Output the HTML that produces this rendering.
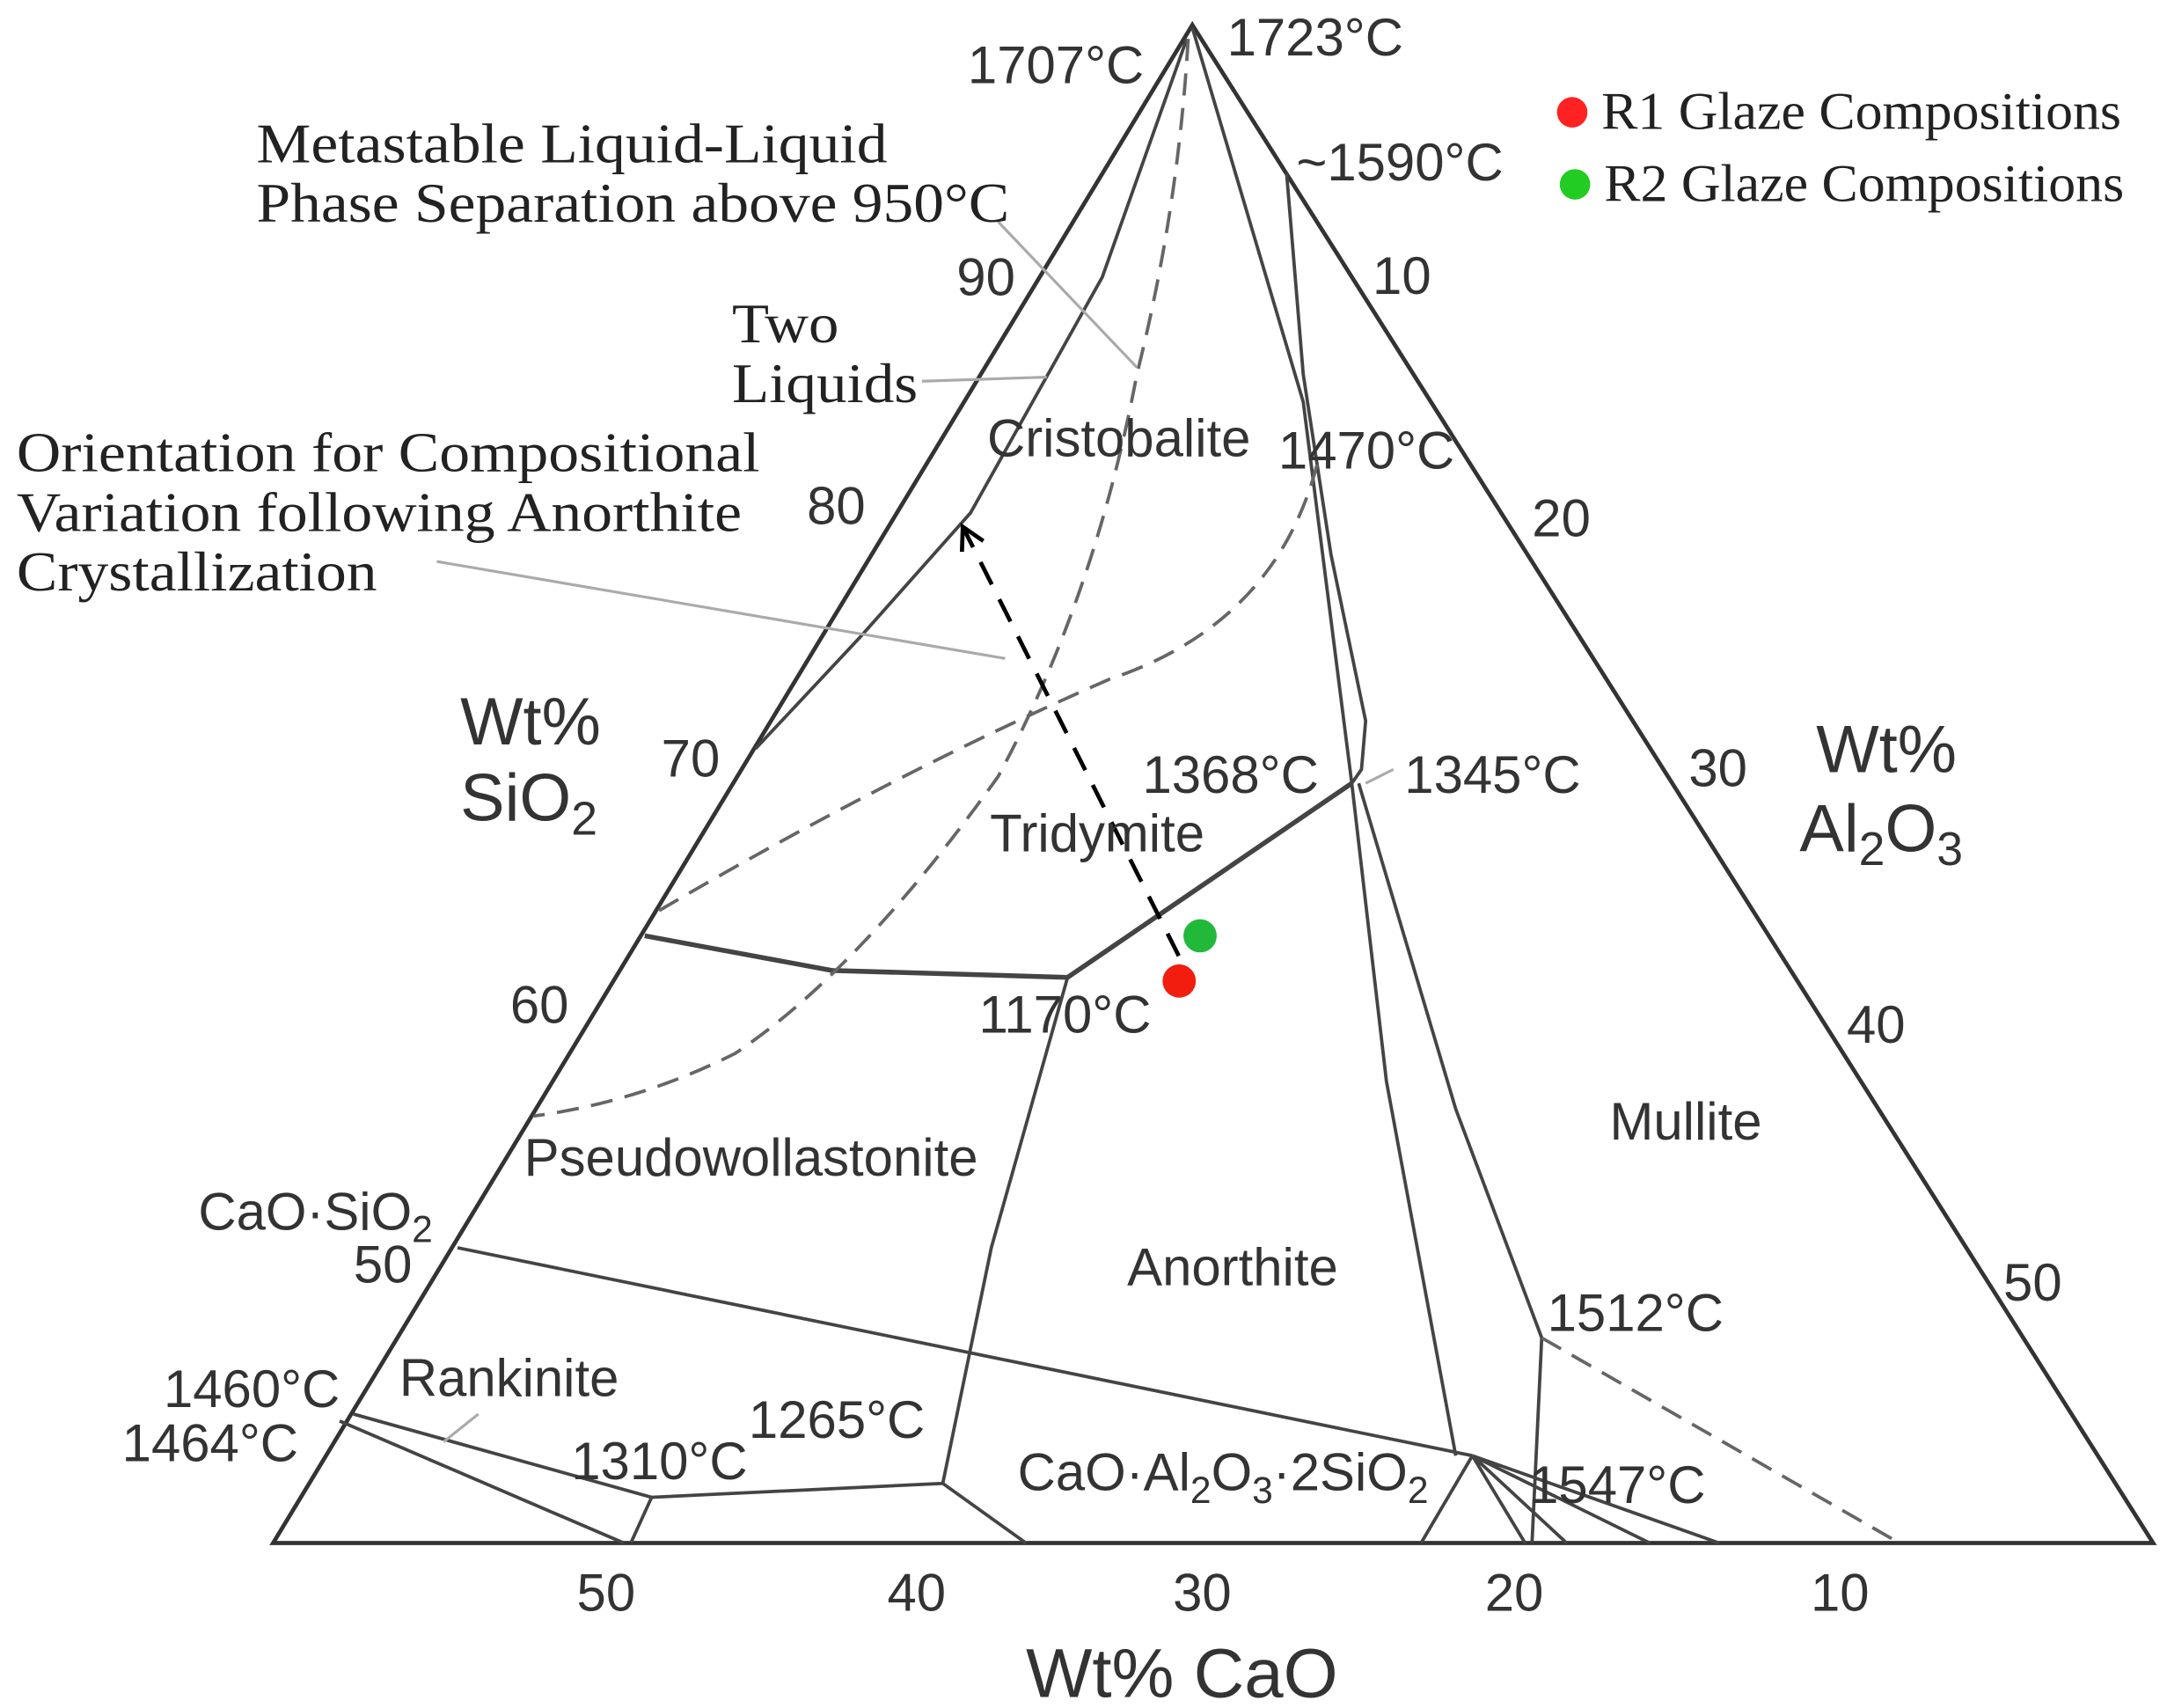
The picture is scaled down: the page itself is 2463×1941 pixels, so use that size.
<!DOCTYPE html>
<html><head><meta charset="utf-8"><style>
html,body{margin:0;padding:0;background:#fff;}
svg{display:block;}
.s{font-family:"Liberation Sans",sans-serif;fill:#333;}
.r{font-family:"Liberation Serif",serif;fill:#222;}
</style></head><body>
<svg id="chart" width="2463" height="1941" viewBox="0 0 1563 1232" preserveAspectRatio="none" xmlns="http://www.w3.org/2000/svg">
<g fill="none" stroke="#444" stroke-width="2.4">
  <path d="M860,18 L197,1113 L1553,1113 Z" stroke="#333" stroke-width="3"/>
  <path d="M856,28 L795,200 L700,370 L620,460 L545,540"/>
  <path d="M860,20 L940,290 L975,565 L1000,780 L1050,1050"/>
  <path d="M928,125 L940,270 L960,400 L985,520 L982,555 L975,565"/>
  <path d="M980,565 L1050,800 L1112,965 L1105,1113"/>
  <path stroke-width="3.5" d="M465,675 L600,700 L770,705 L975,565"/>
  <path d="M770,705 L715,900 L680,1070 L470,1080 L455,1113 M680,1070 L740,1113"/>
  <path d="M1062,1050 L1025,1113 M1062,1050 L1130,1113 M1062,1050 L1190,1113 M1062,1050 L1240,1113 M1062,1050 L1100,1113"/>
  <path d="M330,900 L1062,1050"/>
  <path d="M255,1020 L470,1080 M245,1025 L450,1113"/>
  <path stroke-dasharray="16,9" stroke="#666" d="M857,28 Q850,150 820,270 Q790,430 720,560 Q620,700 530,760 Q460,795 385,805"/>
  <path stroke-dasharray="16,9" stroke="#666" d="M950,335 Q920,450 800,490 Q640,560 470,660"/>
  <path stroke-dasharray="16,9" stroke="#666" d="M1112,965 L1370,1113"/>
  <path stroke="#aaa" stroke-width="2" d="M720,160 L820,265 M665,275 L755,272 M315,405 L725,475 M320,1040 L345,1020 M985,565 L1005,555"/>
</g>
<line id="trend-arrow" stroke="#000" stroke-width="3" stroke-dasharray="18,12"/>
<path id="trend-head" fill="none" stroke="#000" stroke-width="3"/>
<g id="points"></g>
<g>
  <circle cx="1134" cy="81" r="11" fill="#f22"/>
  <text class="r" x="1155" y="93" font-size="38" textLength="375" lengthAdjust="spacingAndGlyphs">R1 Glaze Compositions</text>
  <circle cx="1136" cy="133" r="11" fill="#2c2"/>
  <text class="r" x="1157" y="145" font-size="38" textLength="375" lengthAdjust="spacingAndGlyphs">R2 Glaze Compositions</text>
</g>
<g class="s" font-size="38">
  <text x="885" y="40">1723°C</text>
  <text x="698" y="60">1707°C</text>
  <text x="935" y="130">~1590°C</text>
  <text x="922" y="338">1470°C</text>
  <text x="824" y="572">1368°C</text>
  <text x="1013" y="572">1345°C</text>
  <text x="706" y="745">1170°C</text>
  <text x="1116" y="960">1512°C</text>
  <text x="1103" y="1084">1547°C</text>
  <text x="540" y="1037">1265°C</text>
  <text x="412" y="1067">1310°C</text>
  <text x="118" y="1015">1460°C</text>
  <text x="88" y="1054">1464°C</text>
  <text x="712" y="329">Cristobalite</text>
  <text x="714" y="614">Tridymite</text>
  <text x="378" y="848">Pseudowollastonite</text>
  <text x="813" y="927">Anorthite</text>
  <text x="1161" y="822">Mullite</text>
  <text x="288" y="1007">Rankinite</text>
  <text x="143" y="887">CaO·SiO<tspan font-size="27" dy="9">2</tspan></text>
  <text x="734" y="1075">CaO·Al<tspan font-size="27" dy="9">2</tspan><tspan dy="-9">O</tspan><tspan font-size="27" dy="9">3</tspan><tspan dy="-9">·2SiO</tspan><tspan font-size="27" dy="9">2</tspan></text>
  <text x="690" y="213">90</text>
  <text x="582" y="378">80</text>
  <text x="477" y="560">70</text>
  <text x="368" y="738">60</text>
  <text x="255" y="925">50</text>
  <text x="990" y="212">10</text>
  <text x="1105" y="387">20</text>
  <text x="1218" y="567">30</text>
  <text x="1332" y="752">40</text>
  <text x="1445" y="938">50</text>
  <text x="416" y="1162">50</text>
  <text x="640" y="1162">40</text>
  <text x="846" y="1162">30</text>
  <text x="1071" y="1162">20</text>
  <text x="1306" y="1162">10</text>
  <text x="332" y="537" font-size="48">Wt%</text>
  <text x="332" y="592" font-size="48">SiO<tspan font-size="34" dy="10">2</tspan></text>
  <text x="1310" y="557" font-size="48">Wt%</text>
  <text x="1298" y="614" font-size="48">Al<tspan font-size="34" dy="10">2</tspan><tspan dy="-10">O</tspan><tspan font-size="34" dy="10">3</tspan></text>
  <text x="740" y="1224" font-size="50" textLength="225" lengthAdjust="spacingAndGlyphs">Wt% CaO</text>
</g>
<g class="r" font-size="40">
  <text x="185" y="117" textLength="455" lengthAdjust="spacingAndGlyphs">Metastable Liquid-Liquid</text>
  <text x="185" y="160" textLength="543" lengthAdjust="spacingAndGlyphs">Phase Separation above 950°C</text>
  <text x="528" y="247" textLength="77" lengthAdjust="spacingAndGlyphs">Two</text>
  <text x="528" y="290" textLength="134" lengthAdjust="spacingAndGlyphs">Liquids</text>
  <text x="12" y="340" textLength="536" lengthAdjust="spacingAndGlyphs">Orientation for Compositional</text>
  <text x="12" y="383" textLength="523" lengthAdjust="spacingAndGlyphs">Variation following Anorthite</text>
  <text x="12" y="426" textLength="260" lengthAdjust="spacingAndGlyphs">Crystallization</text>
</g>
<script>
// compositions (wt%)
const seriesNames = ["R1", "R2"];
const cao = [20.0, 18.4];
const sio2 = [61.9, 63.7];
const colors = ["#f21d0f", "#22b83a"];
const arrowFrom = [62.9, 19.5];  // [SiO2, CaO]
const arrowTo = [80.0, 17.7];
function py(s){ return 18 + (100 - s) * 18.1; }
function px(c, s){ const y = py(s); return 860 + (y - 18) * 0.633 - c * 22.3; }
const NS = "http://www.w3.org/2000/svg";
const g = document.getElementById("points");
for (let i = 0; i < cao.length; i++) {
  const c = document.createElementNS(NS, "circle");
  c.setAttribute("cx", px(cao[i], sio2[i]));
  c.setAttribute("cy", py(sio2[i]));
  c.setAttribute("r", 12);
  c.setAttribute("fill", colors[i]);
  
  
  g.appendChild(c);
}
const x1 = px(arrowFrom[1], arrowFrom[0]), y1 = py(arrowFrom[0]);
const x2 = px(arrowTo[1], arrowTo[0]), y2 = py(arrowTo[0]);
const ln = document.getElementById("trend-arrow");
ln.setAttribute("x1", x1); ln.setAttribute("y1", y1);
ln.setAttribute("x2", x2); ln.setAttribute("y2", y2);
const ang = Math.atan2(y2 - y1, x2 - x1), L = 18;
const h = document.getElementById("trend-head");
h.setAttribute("d", "M" + (x2 - L*Math.cos(ang-0.5)) + "," + (y2 - L*Math.sin(ang-0.5)) + " L" + x2 + "," + y2 + " L" + (x2 - L*Math.cos(ang+0.5)) + "," + (y2 - L*Math.sin(ang+0.5)));
</script>
</svg>
</body></html>
